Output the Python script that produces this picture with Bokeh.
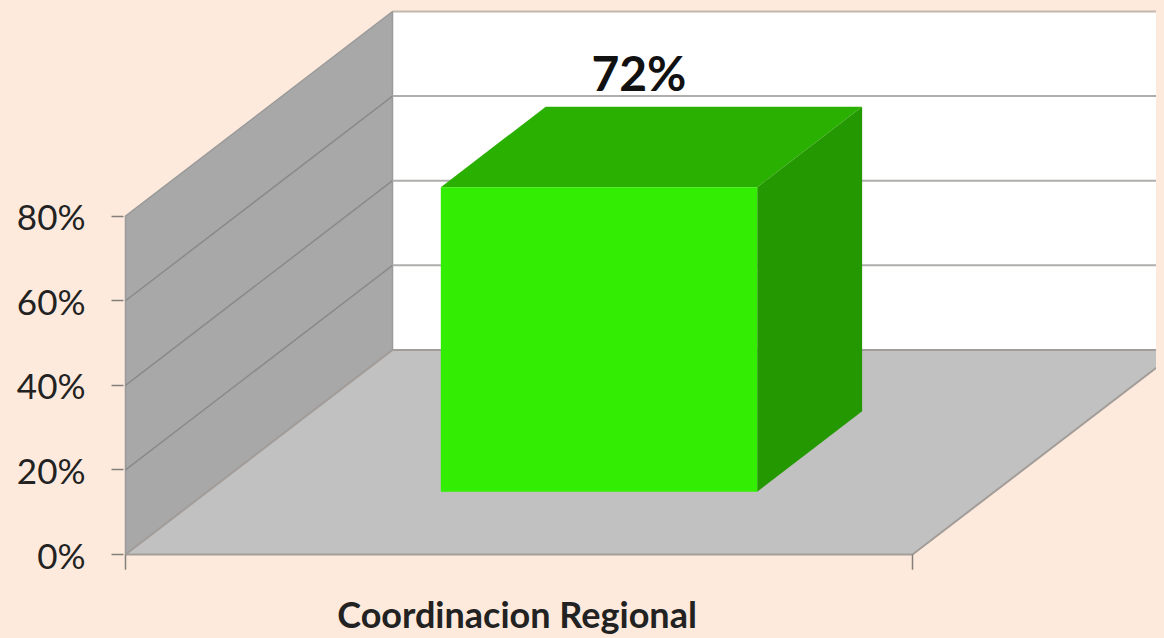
from bokeh.plotting import figure
from bokeh.models import Range1d, FixedTicker, PrintfTickFormatter
from bokeh.core.properties import value
from bokeh.embed import file_html
from bokeh.resources import INLINE
from jinja2 import Template

# ---- data
categories = ["Coordinacion Regional"]
values = [72]
value_labels = ["72%"]
y_ticks = [0, 20, 40, 60, 80]

# ---- oblique projection of the 3-D chart box (data units: category x, percent y)
PX_PER_X = 787.0
PX_PER_PCT = 4.2375
ORIGIN_PX = (125.0, 555.0)
DEPTH_X = 267.0 / PX_PER_X
DEPTH_Y = 205.0 / PX_PER_PCT
WALL_TOP = y_ticks[-1]
BAR_W = 0.402
BAR_C = 0.4975
BAR_D0, BAR_D1 = 0.307, 0.70
BG = "#fdeadc"

def pr(x, d, v):
    return x + d * DEPTH_X, v + d * DEPTH_Y

def poly(*pts):
    xs, ys = zip(*[pr(*q) for q in pts])
    return list(xs), list(ys)

W, H = 1156, 630
FRAME_L, FRAME_B = 123.0, 572.0     # page pixels of the frame's left and bottom edges
x_range = Range1d((FRAME_L - ORIGIN_PX[0]) / PX_PER_X, (8 + W - ORIGIN_PX[0]) / PX_PER_X)
y_range = Range1d((ORIGIN_PX[1] - FRAME_B) / PX_PER_PCT, (ORIGIN_PX[1] - 8) / PX_PER_PCT)

p = figure(width=W, height=H, output_backend="svg", toolbar_location=None,
           x_range=x_range, y_range=y_range,
           min_border_left=int(FRAME_L - 8), min_border_right=0, min_border_top=0,
           min_border_bottom=int(8 + H - FRAME_B),
           background_fill_color=BG, border_fill_color=BG, outline_line_color=None,
           tools="")
p.grid.visible = False

# walls and floor
xs, ys = poly((0, 1, 0), (1.0 + DEPTH_X * 4, 1, 0), (1.0 + DEPTH_X * 4, 1, WALL_TOP), (0, 1, WALL_TOP))
p.patch(xs, ys, fill_color="#ffffff", line_color=None)
xs, ys = poly((0, 1, WALL_TOP), (1.0 + DEPTH_X * 4, 1, WALL_TOP))
p.line(xs, ys, line_color="#c4b8ae", line_width=2)
xs, ys = poly((0, 0, 0), (0, 1, 0), (0, 1, WALL_TOP), (0, 0, WALL_TOP))
p.patch(xs, ys, fill_color="#a8a8a8", line_color="#9a9a9a", line_width=1.5)
xs, ys = poly((0, 0, 0), (1, 0, 0), (1, 1, 0), (0, 1, 0))
p.patch(xs, ys, fill_color="#c1c1c1", line_color="#a39d9a", line_width=2)

# gridlines
for t in y_ticks[1:-1]:
    xs, ys = poly((0, 0, t), (0, 1, t))
    p.line(xs, ys, line_color="#8a8a8a", line_width=1.5)
    xs, ys = poly((0, 1, t), (1 + DEPTH_X * 4, 1, t))
    p.line(xs, ys, line_color="#b0aeac", line_width=2)

# category ticks
for x in (0, 1):
    xs, ys = poly((x, 0, 0), (x, 0, -3.6))
    p.line(xs, ys, line_color="#857f7b", line_width=1.5)

# bar
for cat, v, lab in zip(categories, values, value_labels):
    l, r = BAR_C - BAR_W / 2, BAR_C + BAR_W / 2
    xs, ys = poly((l, BAR_D0, v), (r, BAR_D0, v), (r, BAR_D1, v), (l, BAR_D1, v))
    p.patch(xs, ys, fill_color="#2ab000", line_color=None)
    xs, ys = poly((r, BAR_D0, 0), (r, BAR_D1, 0), (r, BAR_D1, v), (r, BAR_D0, v))
    p.patch(xs, ys, fill_color="#249800", line_color=None)
    xs, ys = poly((l, BAR_D0, 0), (r, BAR_D0, 0), (r, BAR_D0, v), (l, BAR_D0, v))
    p.patch(xs, ys, fill_color="#33ee02", line_color=None)
    lx, ly = pr(BAR_C, BAR_D1, v)
    p.text([lx], [ly], text=[lab], text_font=value("Lato"), text_font_style="bold",
           text_font_size="48px", text_color="#111111", text_align="center",
           text_baseline="alphabetic", x_offset=-65, y_offset=-34)

# axes
ya = p.yaxis[0]
ya.ticker = FixedTicker(ticks=y_ticks)
ya.formatter = PrintfTickFormatter(format="%d%%")
ya.axis_line_color = None
ya.major_tick_line_color = "#857f7b"
ya.major_tick_line_width = 1.5
ya.major_tick_out = 12
ya.major_tick_in = 0
ya.minor_tick_line_color = None
ya.major_label_standoff = 26
ya.major_label_text_font = "Lato"
ya.major_label_text_font_size = "35px"
ya.major_label_text_color = "#222222"

xa = p.xaxis[0]
xa.ticker = FixedTicker(ticks=[BAR_C])
xa.major_label_overrides = {BAR_C: categories[0]}
xa.axis_line_color = None
xa.major_tick_line_color = None
xa.minor_tick_line_color = None
xa.major_label_standoff = 14
xa.major_label_text_font = "Lato"
xa.major_label_text_font_style = "bold"
xa.major_label_text_font_size = "36px"
xa.major_label_text_color = "#222222"

template = Template("""<!DOCTYPE html><html><head><meta charset="utf-8">
<title>Coordinacion Regional</title>{{ bokeh_js }}{{ bokeh_css }}
<style>html,body{background:%s;overflow:hidden}</style></head>
<body>{{ plot_div }}{{ plot_script }}</body></html>""" % BG)
open("out.html", "w").write(file_html(p, INLINE, template=template))
